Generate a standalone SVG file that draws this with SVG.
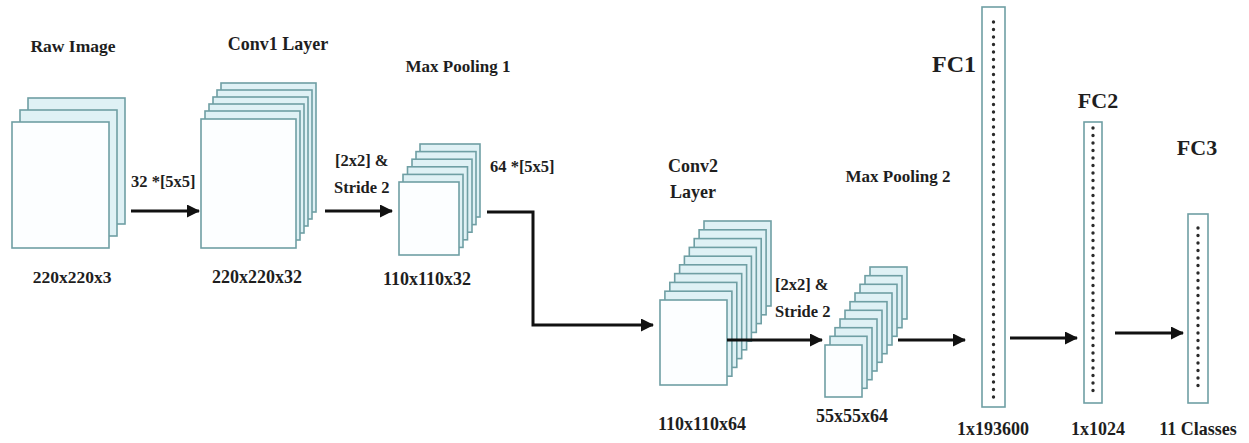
<svg xmlns="http://www.w3.org/2000/svg" width="1249" height="443" viewBox="0 0 1249 443">
<style>
  text { font-family: "Liberation Serif", "Times New Roman", serif; font-weight: bold; fill: #1e1e1e; }
  .s { fill: #dff1f5; stroke: #6f9fa4; stroke-width: 1.6; }
  .f { fill: #fcfeff; stroke: #6f9fa4; stroke-width: 1.6; }
  .fc { fill: #ffffff; stroke: #6f9fa4; stroke-width: 1.6; }
  .dots { stroke: #2a2a2a; stroke-width: 3.4; stroke-linecap: round; stroke-dasharray: 0 7.5; fill: none; }
  .c { stroke: #111; stroke-width: 3; fill: none; }
</style>
<defs>
  <marker id="ah" markerUnits="userSpaceOnUse" markerWidth="13" markerHeight="13" refX="12" refY="6.5" orient="auto">
    <path d="M0,0 L13,6.5 L0,13 z" fill="#111"/>
  </marker>
</defs>
<rect width="1249" height="443" fill="#ffffff"/>

<g id="raw">
  <rect class="s" x="28" y="98" width="97" height="126"/>
  <rect class="s" x="20" y="110" width="97" height="126"/>
  <rect class="f" x="12" y="122" width="97" height="126"/>
  <text x="73" y="52" font-size="17.5" text-anchor="middle">Raw Image</text>
  <text x="72" y="283" font-size="17.5" text-anchor="middle">220x220x3</text>
</g>

<g id="conv1">
  <rect class="s" x="221" y="83" width="95" height="129"/>
  <rect class="s" x="217" y="90" width="95" height="129"/>
  <rect class="s" x="213" y="97" width="95" height="129"/>
  <rect class="s" x="209" y="104" width="95" height="129"/>
  <rect class="s" x="205" y="111" width="95" height="129"/>
  <rect class="f" x="201" y="119" width="95" height="129"/>
  <text x="278" y="50" font-size="18" text-anchor="middle">Conv1 Layer</text>
  <text x="257" y="283" font-size="18" text-anchor="middle">220x220x32</text>
</g>

<g id="pool1">
  <rect class="s" x="420" y="144" width="60" height="73"/>
  <rect class="s" x="416" y="151.6" width="60" height="73"/>
  <rect class="s" x="412" y="159.2" width="60" height="73"/>
  <rect class="s" x="407.5" y="166.8" width="60" height="73"/>
  <rect class="s" x="403" y="174.4" width="60" height="73"/>
  <rect class="f" x="399" y="182" width="60" height="73"/>
  <text x="458" y="72" font-size="17" text-anchor="middle">Max Pooling 1</text>
  <text x="427" y="285" font-size="18" text-anchor="middle">110x110x32</text>
</g>

<g id="conv2">
  <rect class="s" x="704" y="221" width="67" height="85"/>
  <rect class="s" x="699.1" y="229.8" width="67" height="85"/>
  <rect class="s" x="694.2" y="238.6" width="67" height="85"/>
  <rect class="s" x="689.3" y="247.4" width="67" height="85"/>
  <rect class="s" x="684.4" y="256.2" width="67" height="85"/>
  <rect class="s" x="679.6" y="264.8" width="67" height="85"/>
  <rect class="s" x="674.7" y="273.6" width="67" height="85"/>
  <rect class="s" x="669.8" y="282.4" width="67" height="85"/>
  <rect class="s" x="664.9" y="291.2" width="67" height="85"/>
  <rect class="f" x="660" y="300" width="67" height="85"/>
  <text x="693" y="172" font-size="18" text-anchor="middle">Conv2</text>
  <text x="693" y="198" font-size="18" text-anchor="middle">Layer</text>
  <text x="702" y="430" font-size="18" text-anchor="middle">110x110x64</text>
</g>

<g id="pool2">
  <rect class="s" x="870" y="267" width="37" height="52"/>
  <rect class="s" x="865" y="275.7" width="37" height="52"/>
  <rect class="s" x="860" y="284.3" width="37" height="52"/>
  <rect class="s" x="855" y="293" width="37" height="52"/>
  <rect class="s" x="850" y="301.7" width="37" height="52"/>
  <rect class="s" x="845" y="310.3" width="37" height="52"/>
  <rect class="s" x="840" y="319" width="37" height="52"/>
  <rect class="s" x="835" y="327.7" width="37" height="52"/>
  <rect class="s" x="830" y="336.3" width="37" height="52"/>
  <rect class="f" x="825" y="345" width="37" height="52"/>
  <text x="898" y="182" font-size="17" text-anchor="middle">Max Pooling 2</text>
  <text x="852" y="422" font-size="18" text-anchor="middle">55x55x64</text>
</g>

<g id="fc1">
  <rect class="fc" x="982" y="7" width="23" height="400"/>
  <line class="dots" x1="993.5" y1="22" x2="993.5" y2="399"/>
  <text x="932" y="72" font-size="24">FC1</text>
  <text x="993" y="435" font-size="18" text-anchor="middle">1x193600</text>
</g>

<g id="fc2">
  <rect class="fc" x="1084" y="122" width="18" height="281"/>
  <line class="dots" x1="1093" y1="128" x2="1093" y2="394"/>
  <text x="1098" y="108" font-size="22" text-anchor="middle">FC2</text>
  <text x="1098" y="435" font-size="18" text-anchor="middle">1x1024</text>
</g>

<g id="fc3">
  <rect class="fc" x="1188" y="214" width="20" height="189"/>
  <line class="dots" x1="1198" y1="228" x2="1198" y2="393"/>
  <text x="1197" y="155" font-size="22" text-anchor="middle">FC3</text>
  <text x="1198" y="435" font-size="18" text-anchor="middle">11 Classes</text>
</g>

<g id="labels">
  <text x="131" y="187" font-size="16.5">32 *[5x5]</text>
  <text x="335" y="166" font-size="16.5">[2x2] &amp;</text>
  <text x="334" y="193" font-size="16.5">Stride 2</text>
  <text x="490" y="172" font-size="16.5">64 *[5x5]</text>
  <text x="775" y="290" font-size="16.5">[2x2] &amp;</text>
  <text x="775" y="317" font-size="16.5">Stride 2</text>
</g>

<g id="connectors">
  <line class="c" x1="131" y1="211" x2="199" y2="211" marker-end="url(#ah)"/>
  <line class="c" x1="325" y1="211" x2="392" y2="211" marker-end="url(#ah)"/>
  <polyline class="c" points="487,212 533,212 533,325 653,325" marker-end="url(#ah)"/>
  <line class="c" x1="727" y1="340" x2="822" y2="340" marker-end="url(#ah)"/>
  <line class="c" x1="898" y1="340" x2="965" y2="340" marker-end="url(#ah)"/>
  <line class="c" x1="1010" y1="338" x2="1077" y2="338" marker-end="url(#ah)"/>
  <line class="c" x1="1115" y1="333" x2="1183" y2="333" marker-end="url(#ah)"/>
</g>
</svg>
